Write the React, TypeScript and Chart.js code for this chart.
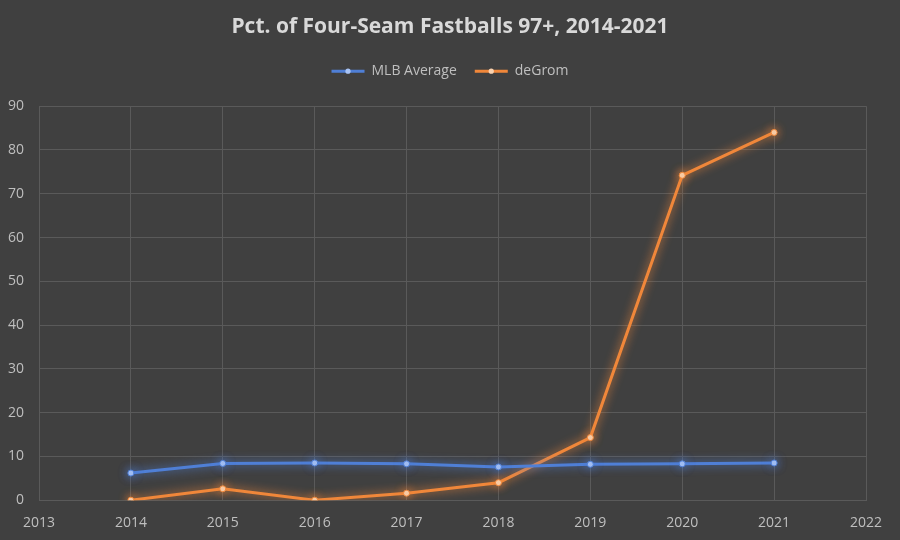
import React, { useEffect, useRef } from "react";
import { Chart, registerables } from "chart.js";

Chart.register(...registerables);

const years = [2014, 2015, 2016, 2017, 2018, 2019, 2020, 2021];
const mlbAverage = [6.2, 8.4, 8.5, 8.3, 7.6, 8.2, 8.3, 8.5];
const deGrom = [0, 2.6, 0, 1.6, 4.0, 14.3, 74.2, 84.0];
const seriesNames = ["MLB Average", "deGrom"];
const titleText = "Pct. of Four-Seam Fastballs 97+, 2014-2021";

const BG = "#404040";
const GRID = "#5a5a5a";
const TEXT = "#bfbfbf";
const BLUE = "#4f7fd6";
const ORANGE = "#f0873a";
const DOTS = ["#a9c4f5", "#f9d2b0"];
const FONT = "'Open Sans', 'DejaVu Sans', sans-serif";

const glowPlugin = {
  id: "glow",
  beforeDatasetDraw(chart: any, args: any) {
    const ctx = chart.ctx;
    const ds = chart.data.datasets[args.index];
    ctx.save();
    ctx.shadowColor = ds.borderColor;
    ctx.shadowBlur = 10;
  },
  afterDatasetDraw(chart: any) {
    chart.ctx.restore();
  },
};

const bgPlugin = {
  id: "bg",
  beforeDraw(chart: any) {
    const ctx = chart.ctx;
    ctx.save();
    ctx.fillStyle = BG;
    ctx.fillRect(0, 0, chart.width, chart.height);
    ctx.restore();
  },
};

const legendPlugin = {
  id: "legendExtra",
  afterInit(chart: any) {
    const lg = chart.legend;
    if (lg && !lg.__patched) {
      const orig = lg.fit;
      lg.fit = function () {
        orig.call(this);
        this.height += 18;
      };
      lg.__patched = true;
    }
  },
  afterLayout(chart: any) {
    [chart.titleBlock, chart.legend].forEach((b: any) => {
      if (!b) return;
      b.left = 0;
      b.right = chart.width;
      b.width = chart.width;
    });
  },
  afterDraw(chart: any) {
    const lg = chart.legend;
    if (!lg || !lg.legendHitBoxes) return;
    const ctx = chart.ctx;
    lg.legendHitBoxes.forEach((hb: any, i: number) => {
      ctx.save();
      ctx.fillStyle = DOTS[i];
      ctx.beginPath();
      ctx.arc(hb.left + 16.5, hb.top + hb.height / 2, 2.6, 0, Math.PI * 2);
      ctx.fill();
      ctx.restore();
    });
  },
};

export default function App() {
  const ref = useRef<HTMLCanvasElement>(null);
  useEffect(() => {
    const chart = new Chart(ref.current!, {
      type: "line",
      data: {
        datasets: [
          {
            label: seriesNames[0],
            data: years.map((y, i) => ({ x: y, y: mlbAverage[i] })),
            borderColor: BLUE,
            backgroundColor: DOTS[0],
            pointBackgroundColor: DOTS[0],
            pointBorderColor: BLUE,
            pointRadius: 3,
            pointBorderWidth: 1,
            borderWidth: 3,
            tension: 0,
          },
          {
            label: seriesNames[1],
            data: years.map((y, i) => ({ x: y, y: deGrom[i] })),
            borderColor: ORANGE,
            backgroundColor: DOTS[1],
            pointBackgroundColor: DOTS[1],
            pointBorderColor: ORANGE,
            pointRadius: 3,
            pointBorderWidth: 1,
            borderWidth: 3,
            tension: 0,
          },
        ],
      },
      options: {
        animation: false,
        responsive: false,
        maintainAspectRatio: false,
        layout: { padding: { left: 8, right: 34, top: 10, bottom: -5 } },
        plugins: {
          title: {
            display: true,
            text: titleText,
            color: "#d9d9d9",
            font: { family: FONT, size: 21, weight: "bold" },
            padding: { top: 4, bottom: 7 },
          },
          legend: {
            display: true,
            labels: {
              color: TEXT,
              font: { family: FONT, size: 14 },
              usePointStyle: false,
              boxWidth: 33,
              boxHeight: 3,
              padding: 18,
              generateLabels: (chart: any) =>
                chart.data.datasets.map((ds: any, i: number) => ({
                  text: ds.label,
                  fillStyle: ds.borderColor,
                  strokeStyle: ds.borderColor,
                  lineWidth: 0,
                  fontColor: TEXT,
                  datasetIndex: i,
                  hidden: false,
                })),
            },
          },
          tooltip: { enabled: false },
        },
        scales: {
          x: {
            type: "linear",
            min: 2013,
            max: 2022,
            ticks: {
              stepSize: 1,
              color: TEXT,
              font: { family: FONT, size: 14 },
              padding: 14,
              callback: (v: any) => String(v),
            },
            grid: { color: GRID, drawTicks: false },
            border: { color: GRID },
          },
          y: {
            min: 0,
            max: 90,
            afterFit: (s: any) => {
              s.width = 31;
            },
            ticks: {
              stepSize: 10,
              color: TEXT,
              font: { family: FONT, size: 14 },
              padding: 15,
            },
            grid: { color: GRID, drawTicks: false },
            border: { color: GRID },
          },
        },
      },
      plugins: [bgPlugin, glowPlugin, legendPlugin],
    } as any);
    return () => chart.destroy();
  }, []);
  return (
    <div style={{ position: "fixed", left: 0, top: 0, width: 900, height: 540, background: BG }}>
      <canvas ref={ref} width={900} height={540} style={{ width: 900, height: 540, display: "block" }} />
    </div>
  );
}
